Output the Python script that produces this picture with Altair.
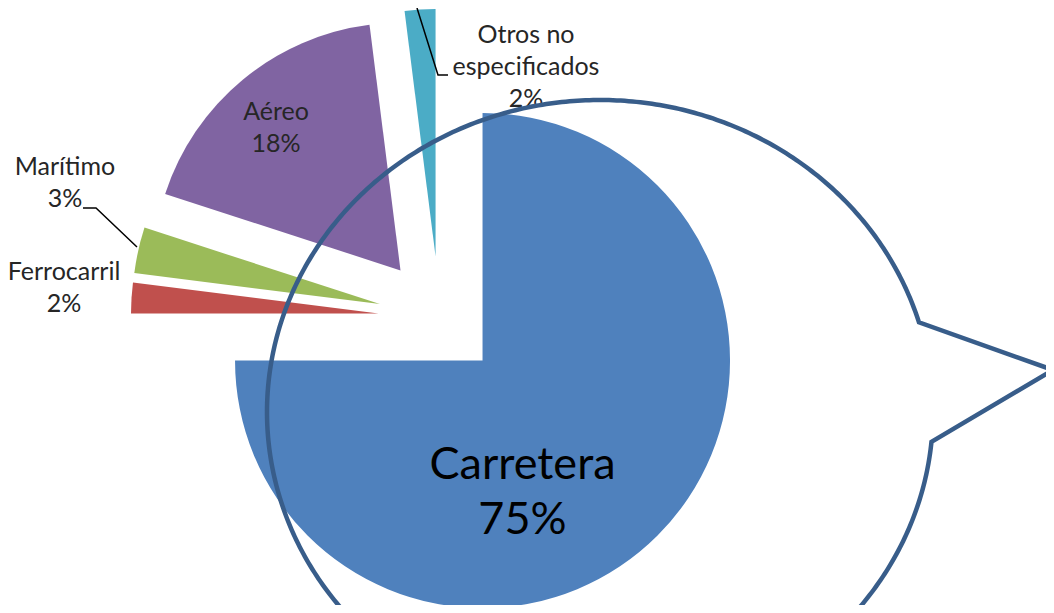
import math
import numpy as np
import pandas as pd
import altair as alt

# ---- data ----
categories = ["Carretera", "Ferrocarril", "Marítimo", "Aéreo", "Otros no especificados"]
shares = [75, 2, 3, 18, 2]
colors = ["#4F81BD", "#C0504D", "#9BBB59", "#8064A2", "#4BACC6"]
label_lines = {"Otros no especificados": "Otros no\nespecificados"}

# ---- layout ----
W, H = 1038, 597           # whole page fits 1054x613 with the 8px margins
CX, CY = 431.4, 309.4      # pie centre (before explosion)
R = 247.5                  # pie radius
EXPLODE = 61               # explosion distance
TOTAL = sum(shares)

label_pos = {              # first-line centres of the labels (layout)
    "Carretera": (514.5, 457),
    "Ferrocarril": (56, 264),
    "Marítimo": (57, 159),
    "Aéreo": (268, 104),
    "Otros no especificados": (518, 27),
}

pie_df = pd.DataFrame({"cat": categories, "share": shares, "ord": list(range(len(categories)))})

pie = (
    alt.Chart(pie_df)
    .transform_window(cum="sum(share)", sort=[alt.SortField("ord")], frame=[None, 0])
    .transform_calculate(
        a0="datum.cum - datum.share",
        mid=f"(datum.cum - datum.share / 2) / {TOTAL} * 2 * PI",
    )
    .transform_calculate(ux="sin(datum.mid)", uy="cos(datum.mid)")
    .mark_arc(radius=R)
    .encode(
        theta=alt.Theta("a0:Q", scale=alt.Scale(domain=[0, TOTAL], range=[0, 2 * math.pi]), stack=None),
        theta2=alt.Theta2("cum:Q"),
        x=alt.X("ux:Q", scale=alt.Scale(domain=[-1, 1], range=[CX - EXPLODE, CX + EXPLODE]), axis=None),
        y=alt.Y("uy:Q", scale=alt.Scale(domain=[-1, 1], range=[CY + EXPLODE, CY - EXPLODE]), axis=None),
        color=alt.Color("cat:N", scale=alt.Scale(domain=categories, range=colors), legend=None),
    )
)

# labels
rows = []
for c, s in zip(categories, shares):
    name = label_lines.get(c, c)
    x, y = label_pos[c]
    rows.append({"cat": c, "txt": f"{name}\n{s}%", "x": x, "y": y})
lab_df = pd.DataFrame(rows)

small = (
    alt.Chart(lab_df)
    .transform_filter(alt.datum.cat != "Carretera")
    .mark_text(font="Lato", fontSize=25, lineBreak="\n", lineHeight=32,
               align="center", baseline="middle", color="#262626")
    .encode(x=alt.X("x:Q", scale=None), y=alt.Y("y:Q", scale=None), text="txt:N")
)
big = (
    alt.Chart(lab_df)
    .transform_filter(alt.datum.cat == "Carretera")
    .mark_text(font="Lato", fontSize=45, lineBreak="\n", lineHeight=55,
               align="center", baseline="middle", color="#000000")
    .encode(x=alt.X("x:Q", scale=None), y=alt.Y("y:Q", scale=None), text="txt:N")
)

# leader lines (layout)
leader_df = pd.DataFrame({
    "g": ["m", "m", "m", "o", "o", "o"],
    "i": [0, 1, 2, 0, 1, 2],
    "x": [75, 88, 129, 409, 430, 440],
    "y": [200, 200, 239, 0, 67, 67],
})
leaders = (
    alt.Chart(leader_df)
    .mark_line(color="#000000", strokeWidth=1.5)
    .encode(x=alt.X("x:Q", scale=None), y=alt.Y("y:Q", scale=None),
            detail="g:N", order="i:Q")
)

# oval callout outline (decoration)
BCX, BCY, BA, BB = 592, 404, 333, 312
TIP = (1045, 362)
t = np.radians(np.linspace(5.5, 343.3, 500))
bx = [TIP[0]] + list(BCX + BA * np.cos(t)) + [TIP[0]]
by = [TIP[1]] + list(BCY + BB * np.sin(t)) + [TIP[1]]
bub_df = pd.DataFrame({"i": list(range(len(bx))), "x": bx, "y": by})
bubble = (
    alt.Chart(bub_df)
    .mark_line(color="#385D8A", strokeWidth=4.5, strokeJoin="miter")
    .encode(x=alt.X("x:Q", scale=None), y=alt.Y("y:Q", scale=None), order="i:Q")
)

chart = (
    alt.layer(pie, leaders, small, big, bubble)
    .resolve_scale(x="independent", y="independent")
    .properties(width=W, height=H, autosize=alt.AutoSizeParams(type="none"), padding=0)
    .configure_view(stroke=None)
)

chart.save("out.html", embed_options={"renderer": "svg", "actions": False})
